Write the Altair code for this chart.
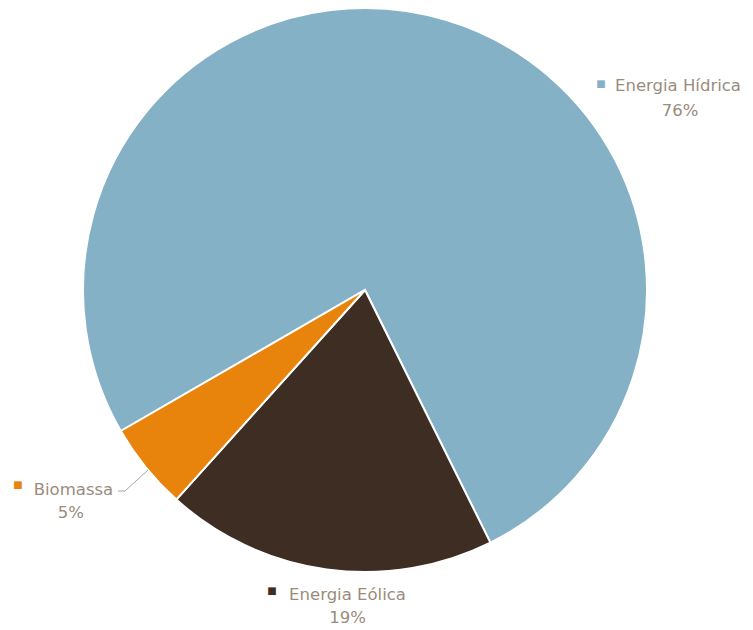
import math
import altair as alt
import pandas as pd

# ---- data ----
categories = ["Energia Hídrica", "Energia Eólica", "Biomassa"]
shares = [76, 19, 5]
colors = ["#84B1C6", "#3E2D22", "#E8830B"]

df = pd.DataFrame({
    "category": categories,
    "value": shares,
    "order": list(range(len(categories))),
    "pct": [f"{v}%" for v in shares],
})

total = sum(shares)
start = math.radians(240)
theta_scale = alt.Scale(domain=[0, total], range=[start, start + 2 * math.pi])
color_scale = alt.Scale(domain=categories, range=colors)

CX, CY, R = 357, 282, 282
TEXT_COLOR = "#9B8B7D"
FONT = "DejaVu Sans"
FS = 16.5

base = alt.Chart(df).transform_stack(
    stack="value", as_=["v0", "v1"], groupby=[], sort=[alt.SortField("order")]
).transform_calculate(mid="(datum.v0 + datum.v1) / 2")

pie = base.mark_arc(outerRadius=R, stroke="white", strokeWidth=2).encode(
    theta=alt.Theta("v0:Q", scale=theta_scale),
    theta2="v1:Q",
    color=alt.Color("category:N", scale=color_scale, legend=None),
    x=alt.value(CX),
    y=alt.value(CY),
)

# label offsets (px) from the slice's mid-angle point on the rim
offsets = {
    "Energia Hídrica": {"name": (231.5, 70.9), "pct": (233.5, 96.4), "mark": (154.5, 64.4)},
    "Energia Eólica": {"name": (20.8, 30.6), "pct": (20.8, 53.6), "mark": (-54.7, 21.6)},
    "Biomassa": {"name": (-72.4, 27.5), "pct": (-74.9, 50.5), "mark": (-127.9, 17.5)},
}

layers = [pie]
for cat in categories:
    sub = base.transform_filter(alt.datum.category == cat)
    o = offsets[cat]
    pos = dict(
        theta=alt.Theta("mid:Q", scale=theta_scale),
        radius=alt.value(R),
        x=alt.value(CX),
        y=alt.value(CY),
    )
    layers.append(
        sub.mark_text(font=FONT, fontSize=FS, color=TEXT_COLOR, align="center",
                      baseline="alphabetic", dx=o["name"][0], dy=o["name"][1]).encode(
            text="category:N", **pos)
    )
    layers.append(
        sub.mark_text(font=FONT, fontSize=FS, color=TEXT_COLOR, align="center",
                      baseline="alphabetic", dx=o["pct"][0], dy=o["pct"][1]).encode(
            text="pct:N", **pos)
    )
    layers.append(
        sub.mark_text(font=FONT, fontSize=10, align="center", baseline="middle",
                      dx=o["mark"][0], dy=o["mark"][1], text="■").encode(
            color=alt.Color("category:N", scale=color_scale, legend=None), **pos)
    )

# leader line for the small slice
bio = alt.Chart(df).transform_filter(alt.datum.category == "Biomassa")
leader1 = bio.mark_rule(color="#A6A6A6", strokeWidth=1).encode(
    x=alt.value(110), x2=alt.value(117), y=alt.value(483), y2=alt.value(483))
leader2 = bio.mark_rule(color="#A6A6A6", strokeWidth=1).encode(
    x=alt.value(117), x2=alt.value(140), y=alt.value(483), y2=alt.value(462))
layers += [leader1, leader2]

chart = alt.layer(*layers).properties(
    width=737, height=620,
    autosize=alt.AutoSizeParams(type="none"),
    padding=0,
    background="white",
).configure_view(stroke=None)

chart.save("out.html", embed_options={"renderer": "svg", "actions": False})
